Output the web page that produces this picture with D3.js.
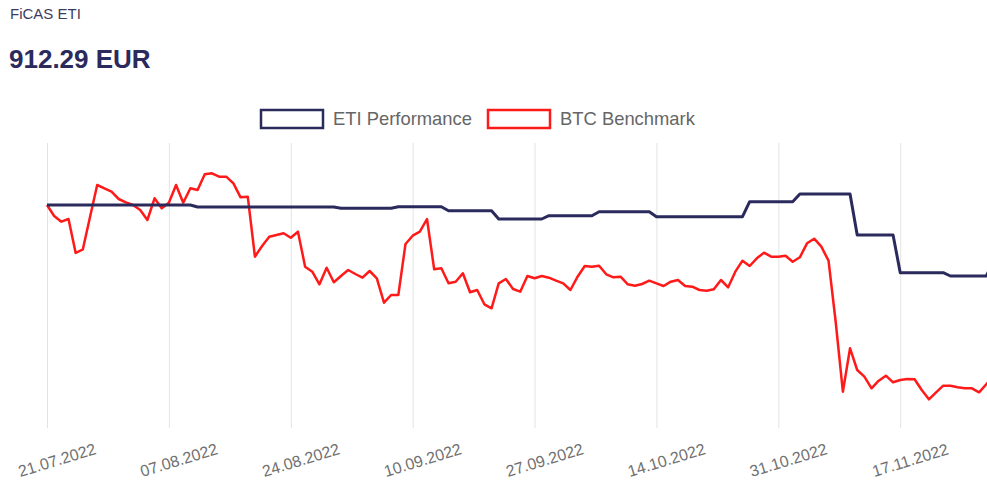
<!DOCTYPE html>
<html>
<head>
<meta charset="utf-8">
<script src="https://cdn.jsdelivr.net/npm/d3@7"></script>
<style>
    html, body { margin: 0; padding: 0; background: #fff; overflow: hidden; }
    body { font-family: "Liberation Sans", Arial, sans-serif; }
    svg { display: block; overflow: hidden; }
</style>
</head>
<body>
<svg id="chart" width="987" height="481"></svg>
<script>
'use strict';

// chart data (daily values, normalised to 1000 EUR)
var startDate = '21.07.2022';

var etiPerformance = [
    1000, 1000, 1000, 1000, 1000, 1000, 1000, 1000, 1000, 1000,
    1000, 1000, 1000, 1000, 1000, 1000, 1000, 1000, 1000, 1000,
    1000, 997.4, 997.4, 997.4, 997.4, 997.4, 997.4, 997.4, 997.4, 997.4,
    997.4, 997.4, 997.4, 997.4, 997.4, 997.4, 997.4, 997.4, 997.4, 997.4,
    997.4, 995.7, 995.7, 995.7, 995.7, 995.7, 995.7, 995.7, 995.7, 997.8,
    997.8, 997.8, 997.8, 997.8, 997.8, 997.8, 992.6, 992.6, 992.6, 992.6,
    992.6, 992.6, 992.6, 981.8, 981.8, 981.8, 981.8, 981.8, 981.8, 981.8,
    986.1, 986.1, 986.1, 986.1, 986.1, 986.1, 986.1, 991.3, 991.3, 991.3,
    991.3, 991.3, 991.3, 991.3, 991.3, 984.8, 984.8, 984.8, 984.8, 984.8,
    984.8, 984.8, 984.8, 984.8, 984.8, 984.8, 984.8, 984.8, 1004.3, 1004.3,
    1004.3, 1004.3, 1004.3, 1004.3, 1004.3, 1014.3, 1014.3, 1014.3, 1014.3, 1014.3,
    1014.3, 1014.3, 1014.3, 961.1, 961.1, 961.1, 961.1, 961.1, 961.1, 912.0,
    912.0, 912.0, 912.0, 912.0, 912.0, 912.0, 907.7, 907.7, 907.7, 907.7,
    907.7, 907.7, 925.9
];

var btcBenchmark = [
    1000, 985.7, 978.3, 981.8, 937.6, 942.4, 984.4, 1026, 1021.7, 1017.3,
    1007.8, 1003.5, 1000, 993.5, 980.5, 1008.7, 995.7, 1003, 1026, 1003,
    1021.7, 1019.5, 1039.9, 1041.2, 1036.8, 1036.8, 1028.2, 1010, 1010.8, 932.8,
    946.7, 958.8, 961, 963.2, 957.5, 965.3, 919.8, 913.3, 896.9, 918.5,
    899.5, 907.7, 915.5, 910.3, 905.5, 914.2, 904.7, 873, 883, 883,
    949.3, 960.1, 965.3, 981.8, 916.4, 917.7, 898.2, 900.3, 911.2, 886.5,
    889.5, 870.9, 865.7, 898.2, 903.8, 890.8, 887.3, 907.7, 904.7, 907.7,
    905.5, 901.6, 898.2, 889.5, 906.8, 920.7, 919.8, 921.1, 909.9, 906,
    906.8, 896.9, 895.1, 897.3, 901.6, 898.2, 894.7, 900.3, 902.5, 894.7,
    893.8, 889.5, 888.6, 890.4, 902.5, 893, 913.3, 927.6, 920.7, 930.7,
    938, 932.8, 932.8, 934.1, 926.3, 932, 950.2, 956.2, 945.8, 927.6,
    847.9, 757.3, 813.7, 785.5, 776.8, 761.7, 771.6, 778.1, 769.5, 772.5,
    773.8, 773.4, 759.5, 747.4, 756.5, 765.1, 765.1, 763, 761.7, 761.7,
    756.5, 766.9, 777.7
];

var tickLabels = [
    '21.07.2022', '07.08.2022', '24.08.2022', '10.09.2022',
    '27.09.2022', '14.10.2022', '31.10.2022', '17.11.2022'
];

var seriesNames = ['ETI Performance', 'BTC Benchmark'];
var seriesColors = ['#2b2a5c', '#ff1a1a'];

function draw () {
    var svg = d3.select('#chart');
    var parseDate = d3.utcParse('%d.%m.%Y');
    var first = parseDate(startDate);

    var dates = etiPerformance.map(function (d, i) {
        return d3.utcDay.offset(first, i);
    });

    var left = 47,
        dayWidth = 7.17,
        top = 143,
        bottom = 428;

    var x = d3.scaleUtc()
        .domain([dates[0], dates[dates.length - 1]])
        .range([left, left + dayWidth * (dates.length - 1)]);

    var y = d3.scaleLinear()
        .domain([710.1, 1080.6])
        .range([bottom, top]);

    // header
    svg.append('text')
        .attr('x', 10)
        .attr('y', 19)
        .attr('fill', '#3c3c5e')
        .style('font-size', '15px')
        .text('FiCAS ETI');

    svg.append('text')
        .attr('x', 9)
        .attr('y', 68)
        .attr('fill', '#2b2a5c')
        .style('font-size', '26px')
        .style('font-weight', 'bold')
        .text('912.29 EUR');

    // vertical grid lines through the axis ticks
    var axis = d3.axisBottom(x)
        .tickValues(tickLabels.map(parseDate))
        .tickSize(-(bottom - top))
        .tickFormat('');

    var gAxis = svg.append('g')
        .attr('transform', 'translate(0,' + bottom + ')')
        .call(axis);

    gAxis.select('.domain').remove();
    gAxis.selectAll('.tick line')
        .attr('stroke', '#e3e3e3')
        .attr('stroke-width', 1);

    svg.append('g')
        .selectAll('text')
        .data(tickLabels)
        .enter().append('text')
            .attr('transform', function (d) {
                return 'translate(' + (x(parseDate(d)) + 10) + ',460) rotate(-17)';
            })
            .attr('text-anchor', 'middle')
            .attr('dy', '0.35em')
            .attr('fill', '#707070')
            .style('font-size', '16px')
            .text(function (d) {
                return d;
            });

    // lines, benchmark first so ETI sits on top
    var line = d3.line()
        .x(function (d, i) {
            return x(dates[i]);
        })
        .y(function (d) {
            return y(d);
        });

    svg.append('path')
        .datum(btcBenchmark)
        .attr('fill', 'none')
        .attr('stroke', seriesColors[1])
        .attr('stroke-width', 2.5)
        .attr('stroke-linejoin', 'round')
        .attr('d', line);

    svg.append('path')
        .datum(etiPerformance)
        .attr('fill', 'none')
        .attr('stroke', seriesColors[0])
        .attr('stroke-width', 3)
        .attr('stroke-linejoin', 'round')
        .attr('d', line);

    // legend
    var legendX = [261, 488];
    var legend = svg.append('g')
        .selectAll('g')
        .data(seriesNames)
        .enter().append('g')
            .attr('transform', function (d, i) {
                return 'translate(' + legendX[i] + ',110)';
            });

    legend.append('rect')
        .attr('x', 0)
        .attr('y', 0)
        .attr('width', 62)
        .attr('height', 18)
        .attr('fill', '#fff')
        .attr('stroke', function (d, i) {
            return seriesColors[i];
        })
        .attr('stroke-width', 2.5);

    legend.append('text')
        .attr('x', 72)
        .attr('y', 9)
        .attr('dy', '0.35em')
        .attr('fill', '#666')
        .style('font-size', '18.4px')
        .text(function (d) {
            return d;
        });
}

draw();
</script>
</body>
</html>
